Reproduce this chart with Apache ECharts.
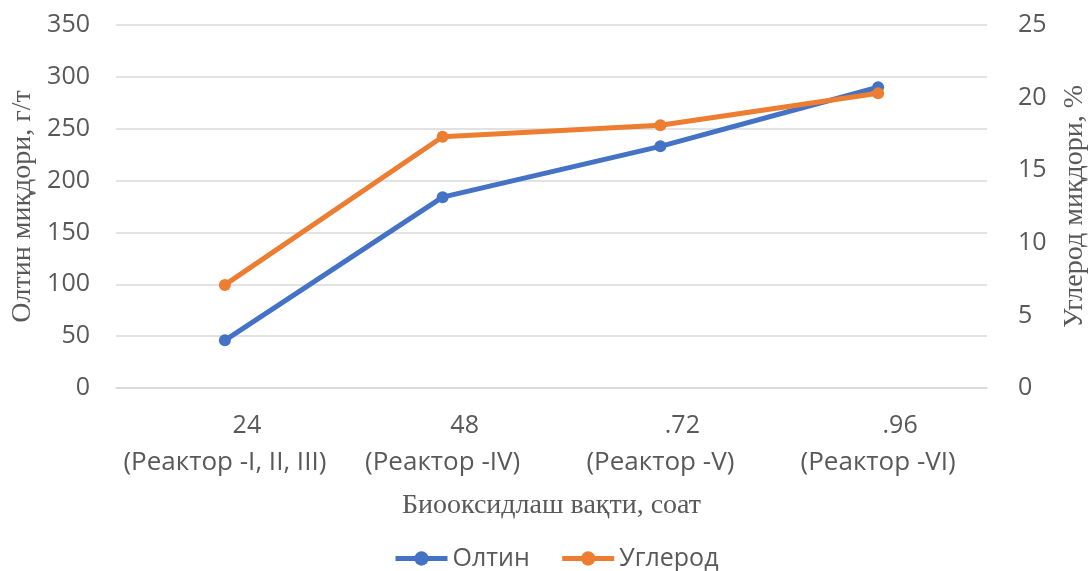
<!DOCTYPE html>
<html>
<head>
<meta charset="utf-8">
<script src="https://cdn.jsdelivr.net/npm/echarts@6/dist/echarts.min.js"></script>
<style>
  html, body { margin: 0; padding: 0; background: #ffffff; overflow: hidden; }
  #chart { width: 1088px; height: 571px; }
</style>
</head>
<body>
<div id="chart"></div>
<script>
// Biooxidation time categories (hours / reactor)
const hours = ['24', '48', '.72', '.96'];
const reactors = ['(Реактор -I, II, III)', '(Реактор -IV)', '(Реактор -V)', '(Реактор -VI)'];

// Gold content, g/t (left axis)
const goldValues = [46, 184, 233, 290];
// Carbon content, % (right axis)
const carbonValues = [7.1, 17.3, 18.1, 20.3];

// Axis ticks
const leftTicks = { min: 0, max: 350, interval: 50 };
const rightTicks = { min: 0, max: 25, interval: 5 };

const categories = hours.map((h, i) => h + '\n' + reactors[i]);

const textColor = '#595959';
const sans = '"Open Sans", sans-serif';
const serif = '"Liberation Serif", "DejaVu Serif", serif';

const chart = echarts.init(document.getElementById('chart'), null, { renderer: 'canvas', width: 1088, height: 571 });

chart.setOption({
  animation: false,
  backgroundColor: '#ffffff',
  grid: { left: 116, right: 101, top: 25, bottom: 183, containLabel: false, outerBoundsMode: 'none' },
  legend: {
    top: 541,
    left: 388,
    itemWidth: 52,
    itemHeight: 18,
    itemGap: 30,
    lineStyle: { width: 5 },
    textStyle: { fontFamily: sans, fontSize: 25, color: textColor },
    data: ['Олтин', 'Углерод']
  },
  xAxis: {
    type: 'category',
    data: categories,
    boundaryGap: true,
    name: 'Биооксидлаш вақти, соат',
    nameLocation: 'middle',
    nameGap: 104,
    nameTextStyle: { fontFamily: serif, fontSize: 28, color: textColor },
    axisLine: { show: true, lineStyle: { color: '#d9d9d9', width: 1.5 } },
    axisTick: { show: false },
    axisLabel: {
      margin: 19,
      interval: 0,
      formatter: function (v) {
        const parts = v.split('\n');
        return '{a|' + parts[0] + '}\n{b|' + parts[1] + '}';
      },
      rich: {
        a: { fontFamily: sans, fontSize: 25, color: textColor, lineHeight: 37, padding: [0, 0, 0, 44] },
        b: { fontFamily: sans, fontSize: 26, color: textColor, lineHeight: 37 }
      }
    }
  },
  yAxis: [
    {
      type: 'value',
      min: leftTicks.min,
      max: leftTicks.max,
      interval: leftTicks.interval,
      name: 'Олтин миқдори, г/т',
      nameLocation: 'middle',
      nameRotate: 90,
      nameGap: 77,
      nameTextStyle: { fontFamily: serif, fontSize: 28, color: textColor },
      axisLine: { show: false },
      axisTick: { show: false },
      axisLabel: { margin: 26, fontFamily: sans, fontSize: 25, color: textColor },
      splitLine: { show: true, lineStyle: { color: '#d9d9d9', width: 1.5 } }
    },
    {
      type: 'value',
      min: rightTicks.min,
      max: rightTicks.max,
      interval: rightTicks.interval,
      name: 'Углерод миқдори, %',
      nameLocation: 'middle',
      nameRotate: 90,
      nameGap: 74,
      nameTextStyle: { fontFamily: serif, fontSize: 28, color: textColor },
      axisLine: { show: false },
      axisTick: { show: false },
      axisLabel: { margin: 31, fontFamily: sans, fontSize: 25, color: textColor },
      splitLine: { show: false }
    }
  ],
  series: [
    {
      name: 'Олтин',
      type: 'line',
      yAxisIndex: 0,
      data: goldValues,
      symbol: 'circle',
      symbolSize: 12,
      color: '#4472C4',
      lineStyle: { width: 5, color: '#4472C4' },
      itemStyle: { color: '#4472C4' }
    },
    {
      name: 'Углерод',
      type: 'line',
      yAxisIndex: 1,
      data: carbonValues,
      symbol: 'circle',
      symbolSize: 12,
      color: '#ED7D31',
      lineStyle: { width: 5, color: '#ED7D31' },
      itemStyle: { color: '#ED7D31' }
    }
  ]
});
</script>
</body>
</html>
